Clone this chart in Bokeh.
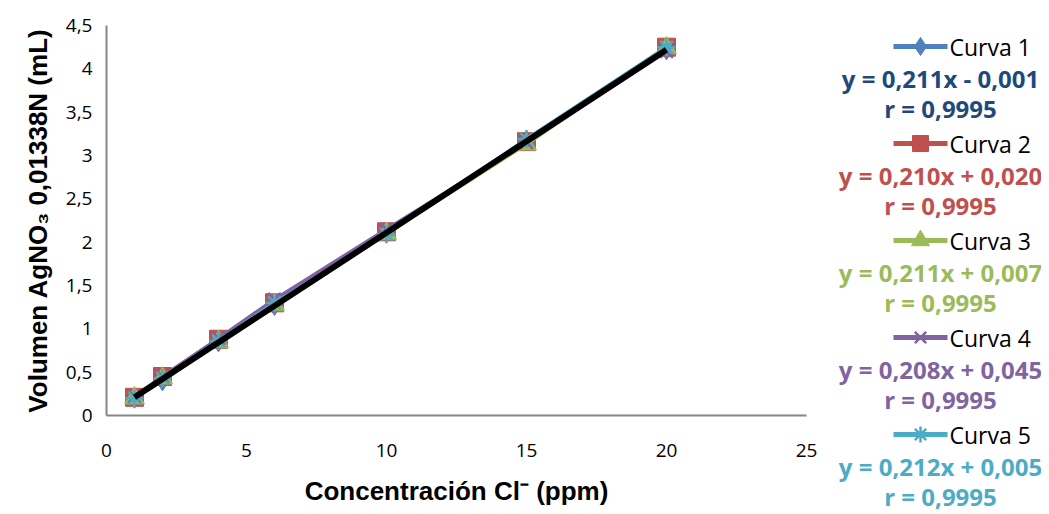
from bokeh.plotting import figure
from bokeh.layouts import row
from bokeh.models import FixedTicker, Range1d
from bokeh.embed import file_html
from bokeh.resources import INLINE
from bokeh.core.properties import value

# ---- data ----
conc = [1, 2, 4, 6, 10, 15, 20]
curva1 = [0.20, 0.40, 0.85, 1.27, 2.11, 3.17, 4.22]
curva2 = [0.21, 0.45, 0.88, 1.30, 2.12, 3.16, 4.25]
curva3 = [0.20, 0.43, 0.85, 1.28, 2.10, 3.13, 4.24]
curva4 = [0.22, 0.45, 0.89, 1.34, 2.15, 3.15, 4.20]
curva5 = [0.20, 0.43, 0.86, 1.30, 2.09, 3.19, 4.25]
series_values = [curva1, curva2, curva3, curva4, curva5]
series_names = ["Curva 1", "Curva 2", "Curva 3", "Curva 4", "Curva 5"]
equations = ["y = 0,211x - 0,001", "y = 0,210x + 0,020", "y = 0,211x + 0,007",
             "y = 0,208x + 0,045", "y = 0,212x + 0,005"]
r_values = ["r = 0,9995", "r = 0,9995", "r = 0,9995", "r = 0,9995", "r = 0,9995"]
trend_x = [1, 20]
trend_y = [0.21, 4.22]
x_ticks = [0, 5, 10, 15, 20, 25]
x_tick_labels = ["0", "5", "10", "15", "20", "25"]
y_ticks = [0, 0.5, 1, 1.5, 2, 2.5, 3, 3.5, 4, 4.5]
y_tick_labels = ["0", "0,5", "1", "1,5", "2", "2,5", "3", "3,5", "4", "4,5"]

# ---- styles / layout ----
colors = ["#4F81BD", "#C0504D", "#9BBB59", "#8064A2", "#4BACC6"]
eq_colors = ["#1F497D", "#C0504D", "#9BBB59", "#8064A2", "#4BACC6"]
markers = ["diamond", "square", "triangle", "x", "asterisk"]
marker_sizes = [20, 18, 20, 18, 18]
legend_marker_sizes = [18, 16, 18, 16, 16]

H = 512
MW, LW = 830, 211
FL, FT, FW, FH = 106, 25, 700, 390   # frame left/top/width/height (px)

p = figure(width=MW, height=H, output_backend="svg", toolbar_location=None,
           x_range=Range1d(0, 25), y_range=Range1d(0, 4.5),
           min_border_left=FL, min_border_right=MW - FL - FW, min_border_top=FT,
           min_border_bottom=H - FT - FH)
p.frame_align = False
p.outline_line_color = None
p.grid.visible = False

p.xaxis.ticker = FixedTicker(ticks=x_ticks)
p.yaxis.ticker = FixedTicker(ticks=y_ticks)
p.xaxis.major_label_overrides = {t: l for t, l in zip(x_ticks, x_tick_labels)}
p.yaxis.major_label_overrides = {t: l for t, l in zip(y_ticks, y_tick_labels)}
for ax in (p.xaxis, p.yaxis):
    ax.axis_line_color = "#868686"
    ax.axis_line_width = 2
    ax.major_tick_line_color = None
    ax.minor_tick_line_color = None
    ax.major_tick_out = 0
    ax.major_tick_in = 0
    ax.minor_tick_out = 0
    ax.major_label_text_font = "Open Sans"
    ax.major_label_text_font_size = "19px"
    ax.major_label_text_color = "#000000"
    ax.axis_label_text_font = "Liberation Sans"
    ax.axis_label_text_font_style = "bold"
    ax.axis_label_text_font_size = "26px"
    ax.axis_label_text_color = "#000000"
p.xaxis.major_label_standoff = 28
p.yaxis.major_label_standoff = 14
p.xaxis.axis_label = "Concentración Cl⁻ (ppm)"
p.yaxis.axis_label = "Volumen AgNO₃ 0,01338N (mL)"
p.xaxis.axis_label_standoff = 16
p.yaxis.axis_label_standoff = 10

for vals, c, m, s in zip(series_values, colors, markers, marker_sizes):
    p.line(conc, vals, line_color=c, line_width=3.5)
    if m in ("x", "asterisk"):
        p.scatter(conc, vals, marker=m, size=s, line_color=c, line_width=2.5,
                  fill_color=None)
    else:
        p.scatter(conc, vals, marker=m, size=s, line_color=c, fill_color=c)

p.line(trend_x, trend_y, line_color="black", line_width=6)

# ---- legend panel (coordinates = page pixels) ----
lg = figure(width=LW, height=H, output_backend="svg", toolbar_location=None,
            x_range=Range1d(MW, MW + LW), y_range=Range1d(H, 0),
            min_border=0, min_border_left=0, min_border_right=0,
            min_border_top=0, min_border_bottom=0)
lg.frame_align = False
lg.axis.visible = False
lg.grid.visible = False
lg.outline_line_color = None

ROW0, PITCH = 46, 97
for i, (name, eq, rv, c, ec, m, s) in enumerate(
        zip(series_names, equations, r_values, colors, eq_colors, markers,
            legend_marker_sizes)):
    y0 = ROW0 + i * PITCH
    lg.line([893, 947], [y0, y0], line_color=c, line_width=5)
    if m in ("x", "asterisk"):
        lg.scatter([920], [y0], marker=m, size=s, line_color=c, line_width=2.5)
    else:
        lg.scatter([920], [y0], marker=m, size=s, line_color=c, fill_color=c)
    lg.text([949], [y0], text=[name], text_font=value("Open Sans"),
            text_font_size="23px", text_color="black",
            text_align="left", text_baseline="middle")
    lg.text([940], [y0 + 32], text=[eq], text_font=value("Open Sans"),
            text_font_style="bold", text_font_size="24px", text_color=ec,
            text_align="center", text_baseline="middle")
    lg.text([940], [y0 + 62], text=[rv], text_font=value("Open Sans"),
            text_font_style="bold", text_font_size="24px", text_color=ec,
            text_align="center", text_baseline="middle")

layout = row(p, lg, spacing=0)
open("out.html", "w").write(file_html(layout, INLINE))
